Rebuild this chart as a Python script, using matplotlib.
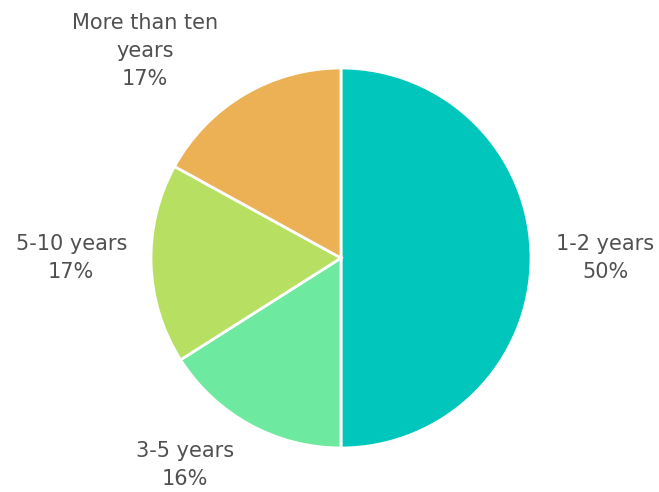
import matplotlib
matplotlib.use('Agg')
import matplotlib.pyplot as plt

categories = ['1-2 years', '3-5 years', '5-10 years', 'More than ten\nyears']
shares = [50, 16, 17, 17]
colors = ['#00C6BB', '#6EE9A0', '#B7E063', '#EDB155']

# label centres, in units of the pie radius
label_pos = [(1.39, 0.0), (-0.82, -1.09), (-1.42, 0.0), (-1.03, 1.09)]

fig = plt.figure(figsize=(6.59, 4.92), dpi=100)
ax = fig.add_axes([0, 0, 1, 1])

wedges, _ = ax.pie(shares, colors=colors, startangle=90, counterclock=False,
                   radius=1.0, center=(0, 0),
                   wedgeprops=dict(edgecolor='white', linewidth=2))

for name, val, (x, y) in zip(categories, shares, label_pos):
    ax.text(x, y, f'{name}\n{val}%', ha='center', va='center',
            fontsize=15, color='#505050', linespacing=1.5)

ax.set_xlim(-341 / 190, (659 - 341) / 190)
ax.set_ylim(-(492 - 258) / 190, 258 / 190)
ax.set_aspect('auto')
ax.axis('off')

fig.savefig('out.png', dpi=100)
